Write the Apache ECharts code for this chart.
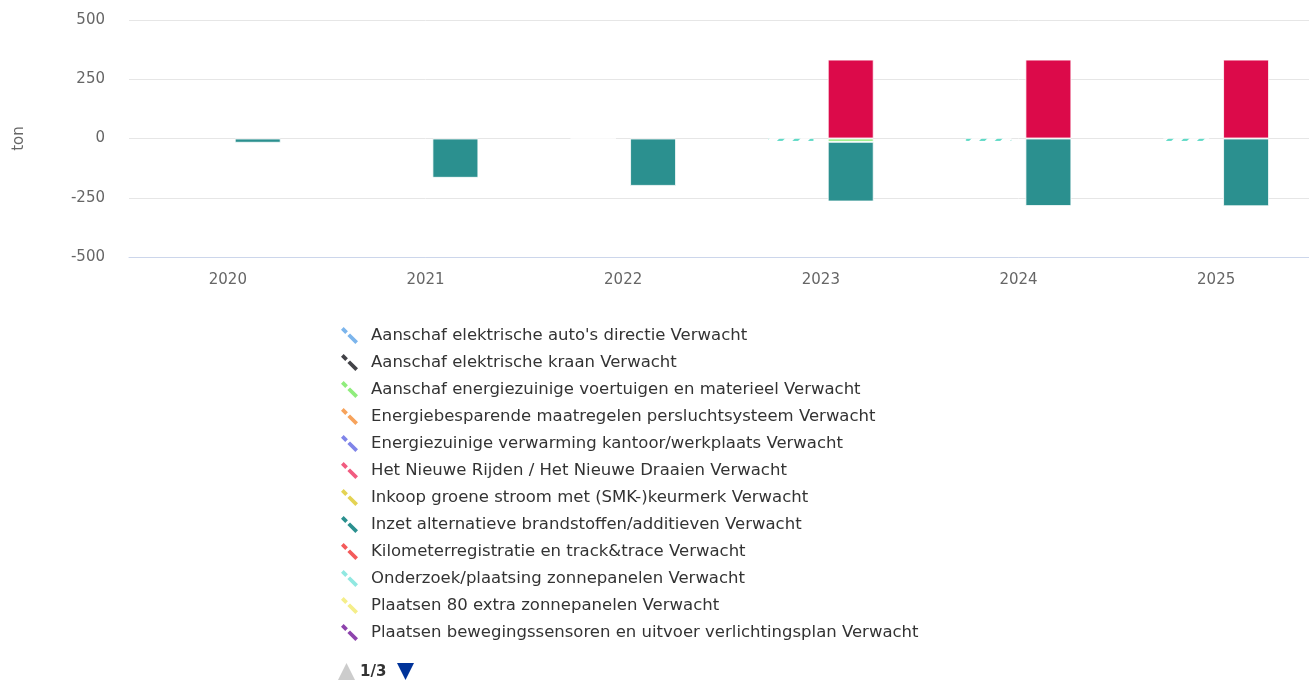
<!DOCTYPE html>
<html>
<head>
<meta charset="utf-8">
<script src="https://cdn.jsdelivr.net/npm/echarts@6/dist/echarts.min.js"></script>
<style>
  html, body { margin: 0; padding: 0; background: #fff; overflow: hidden; }
  #chart { width: 1315px; height: 682px; }
</style>
</head>
<body>
<div id="chart"></div>
<script>
var years = ['2020', '2021', '2022', '2023', '2024', '2025'];
var yTicks = { min: -500, max: 500, step: 250 };

var measures = [
    'Aanschaf elektrische auto\'s directie',
    'Aanschaf elektrische kraan',
    'Aanschaf energiezuinige voertuigen en materieel',
    'Energiebesparende maatregelen persluchtsysteem',
    'Energiezuinige verwarming kantoor/werkplaats',
    'Het Nieuwe Rijden / Het Nieuwe Draaien',
    'Inkoop groene stroom met (SMK-)keurmerk',
    'Inzet alternatieve brandstoffen/additieven',
    'Kilometerregistratie en track&trace',
    'Onderzoek/plaatsing zonnepanelen',
    'Plaatsen 80 extra zonnepanelen',
    'Plaatsen bewegingssensoren en uitvoer verlichtingsplan',
    'Vervangen verlichting door LED'
];
var colors = ['#7cb5ec', '#434348', '#90ed7d', '#f7a35c', '#8085e9', '#f15c80',
    '#e4d354', '#2b908f', '#f45b5b', '#91e8e1', '#f5ee8a', '#8e44ad', '#7fdcb0'];

// expected (hatched) values, per measure index
var expected = {
    7: [null, null, -2, -12, -12, -12]
};
// realised (solid) values, per measure index
var realised = {
    2: [null, null, null, -14, null, null],
    7: [-18, -166, -200, -252, -285, -286],
    12: [null, null, null, 333, 333, 333]
};
var realisedColors = { 12: '#dc0a4a' };
var hatchColors = { 7: '#4fd6c0' };

var icon = 'path://M0,2.5L2.5,0L6.5,4L4,6.5Z M6,8.5L8.5,6L16,13.5L13.5,16Z';

var series = [];
var legendData = [];
var empty = [null, null, null, null, null, null];

measures.forEach(function (m, i) {
    var name = m + ' Verwacht';
    series.push({
        name: name,
        type: 'bar',
        stack: 'verwacht',
        barWidth: 46,
        barGap: '30%',
        data: expected[i] || empty,
        itemStyle: {
            color: '#ffffff',
            borderColor: 'rgba(255,255,255,0.8)',
            borderWidth: 0.5,
            decal: {
                symbol: 'rect',
                symbolSize: 1,
                color: hatchColors[i] || colors[i],
                backgroundColor: '#ffffff',
                dashArrayX: [4, 7],
                dashArrayY: [4, 0],
                rotation: Math.PI / 4
            }
        }
    });
    legendData.push({
        name: name, icon: icon,
        itemStyle: { color: colors[i], borderWidth: 0, decal: 'none' }
    });
});

measures.forEach(function (m, i) {
    var name = m + ' Gerealiseerd';
    var c = realisedColors[i] || colors[i];
    series.push({
        name: name,
        type: 'bar',
        stack: 'gerealiseerd',
        barWidth: 46,
        barGap: '30%',
        data: realised[i] || empty,
        itemStyle: { color: c, borderColor: 'rgba(255,255,255,0.8)', borderWidth: 1 }
    });
    legendData.push({ name: name, icon: 'rect', itemStyle: { color: c, borderWidth: 0 } });
});

var chart = echarts.init(document.getElementById('chart'));
chart.setOption({
    animation: false,
    textStyle: { fontFamily: 'DejaVu Sans, sans-serif' },
    grid: { left: 129, right: 0, top: 20, bottom: 425, containLabel: false },
    xAxis: {
        type: 'category',
        data: years,
        axisLine: { onZero: false, lineStyle: { color: '#ccd6eb' } },
        axisTick: { show: false },
        axisLabel: { color: '#666666', fontSize: 15, margin: 16 }
    },
    yAxis: {
        type: 'value',
        min: yTicks.min,
        max: yTicks.max,
        interval: yTicks.step,
        name: 'ton',
        nameLocation: 'middle',
        nameGap: 102,
        nameTextStyle: { color: '#666666', fontSize: 15 },
        axisLabel: { color: '#666666', fontSize: 15, margin: 24 },
        splitLine: { lineStyle: { color: '#e6e6e6' } }
    },
    legend: {
        type: 'scroll',
        orient: 'vertical',
        left: 336,
        top: 322,
        bottom: 0,
        itemWidth: 17,
        itemHeight: 17,
        itemGap: 10,
        data: legendData,
        textStyle: { color: '#333333', fontSize: 16.5, padding: [0, 0, 0, 8] },
        // the built-in pager is centred under the items; it is redrawn left-aligned below
        pageIconColor: 'rgba(0,0,0,0)',
        pageIconInactiveColor: 'rgba(0,0,0,0)',
        pageIconSize: 16,
        pageButtonGap: 10,
        pageTextStyle: { color: 'rgba(0,0,0,0)', fontSize: 15 },
        pageFormatter: '{current}/{total}'
    },
    graphic: [
        { type: 'polygon', shape: { points: [[338, 680], [355, 680], [346.5, 663]] }, style: { fill: '#cccccc' } },
        { type: 'text', left: 360, top: 665, style: { text: '1/3', fill: '#333333', font: 'bold 15px DejaVu Sans' } },
        { type: 'polygon', shape: { points: [[397, 663], [414, 663], [405.5, 680]] }, style: { fill: '#003399' } }
    ],
    series: series
});
</script>
</body>
</html>
